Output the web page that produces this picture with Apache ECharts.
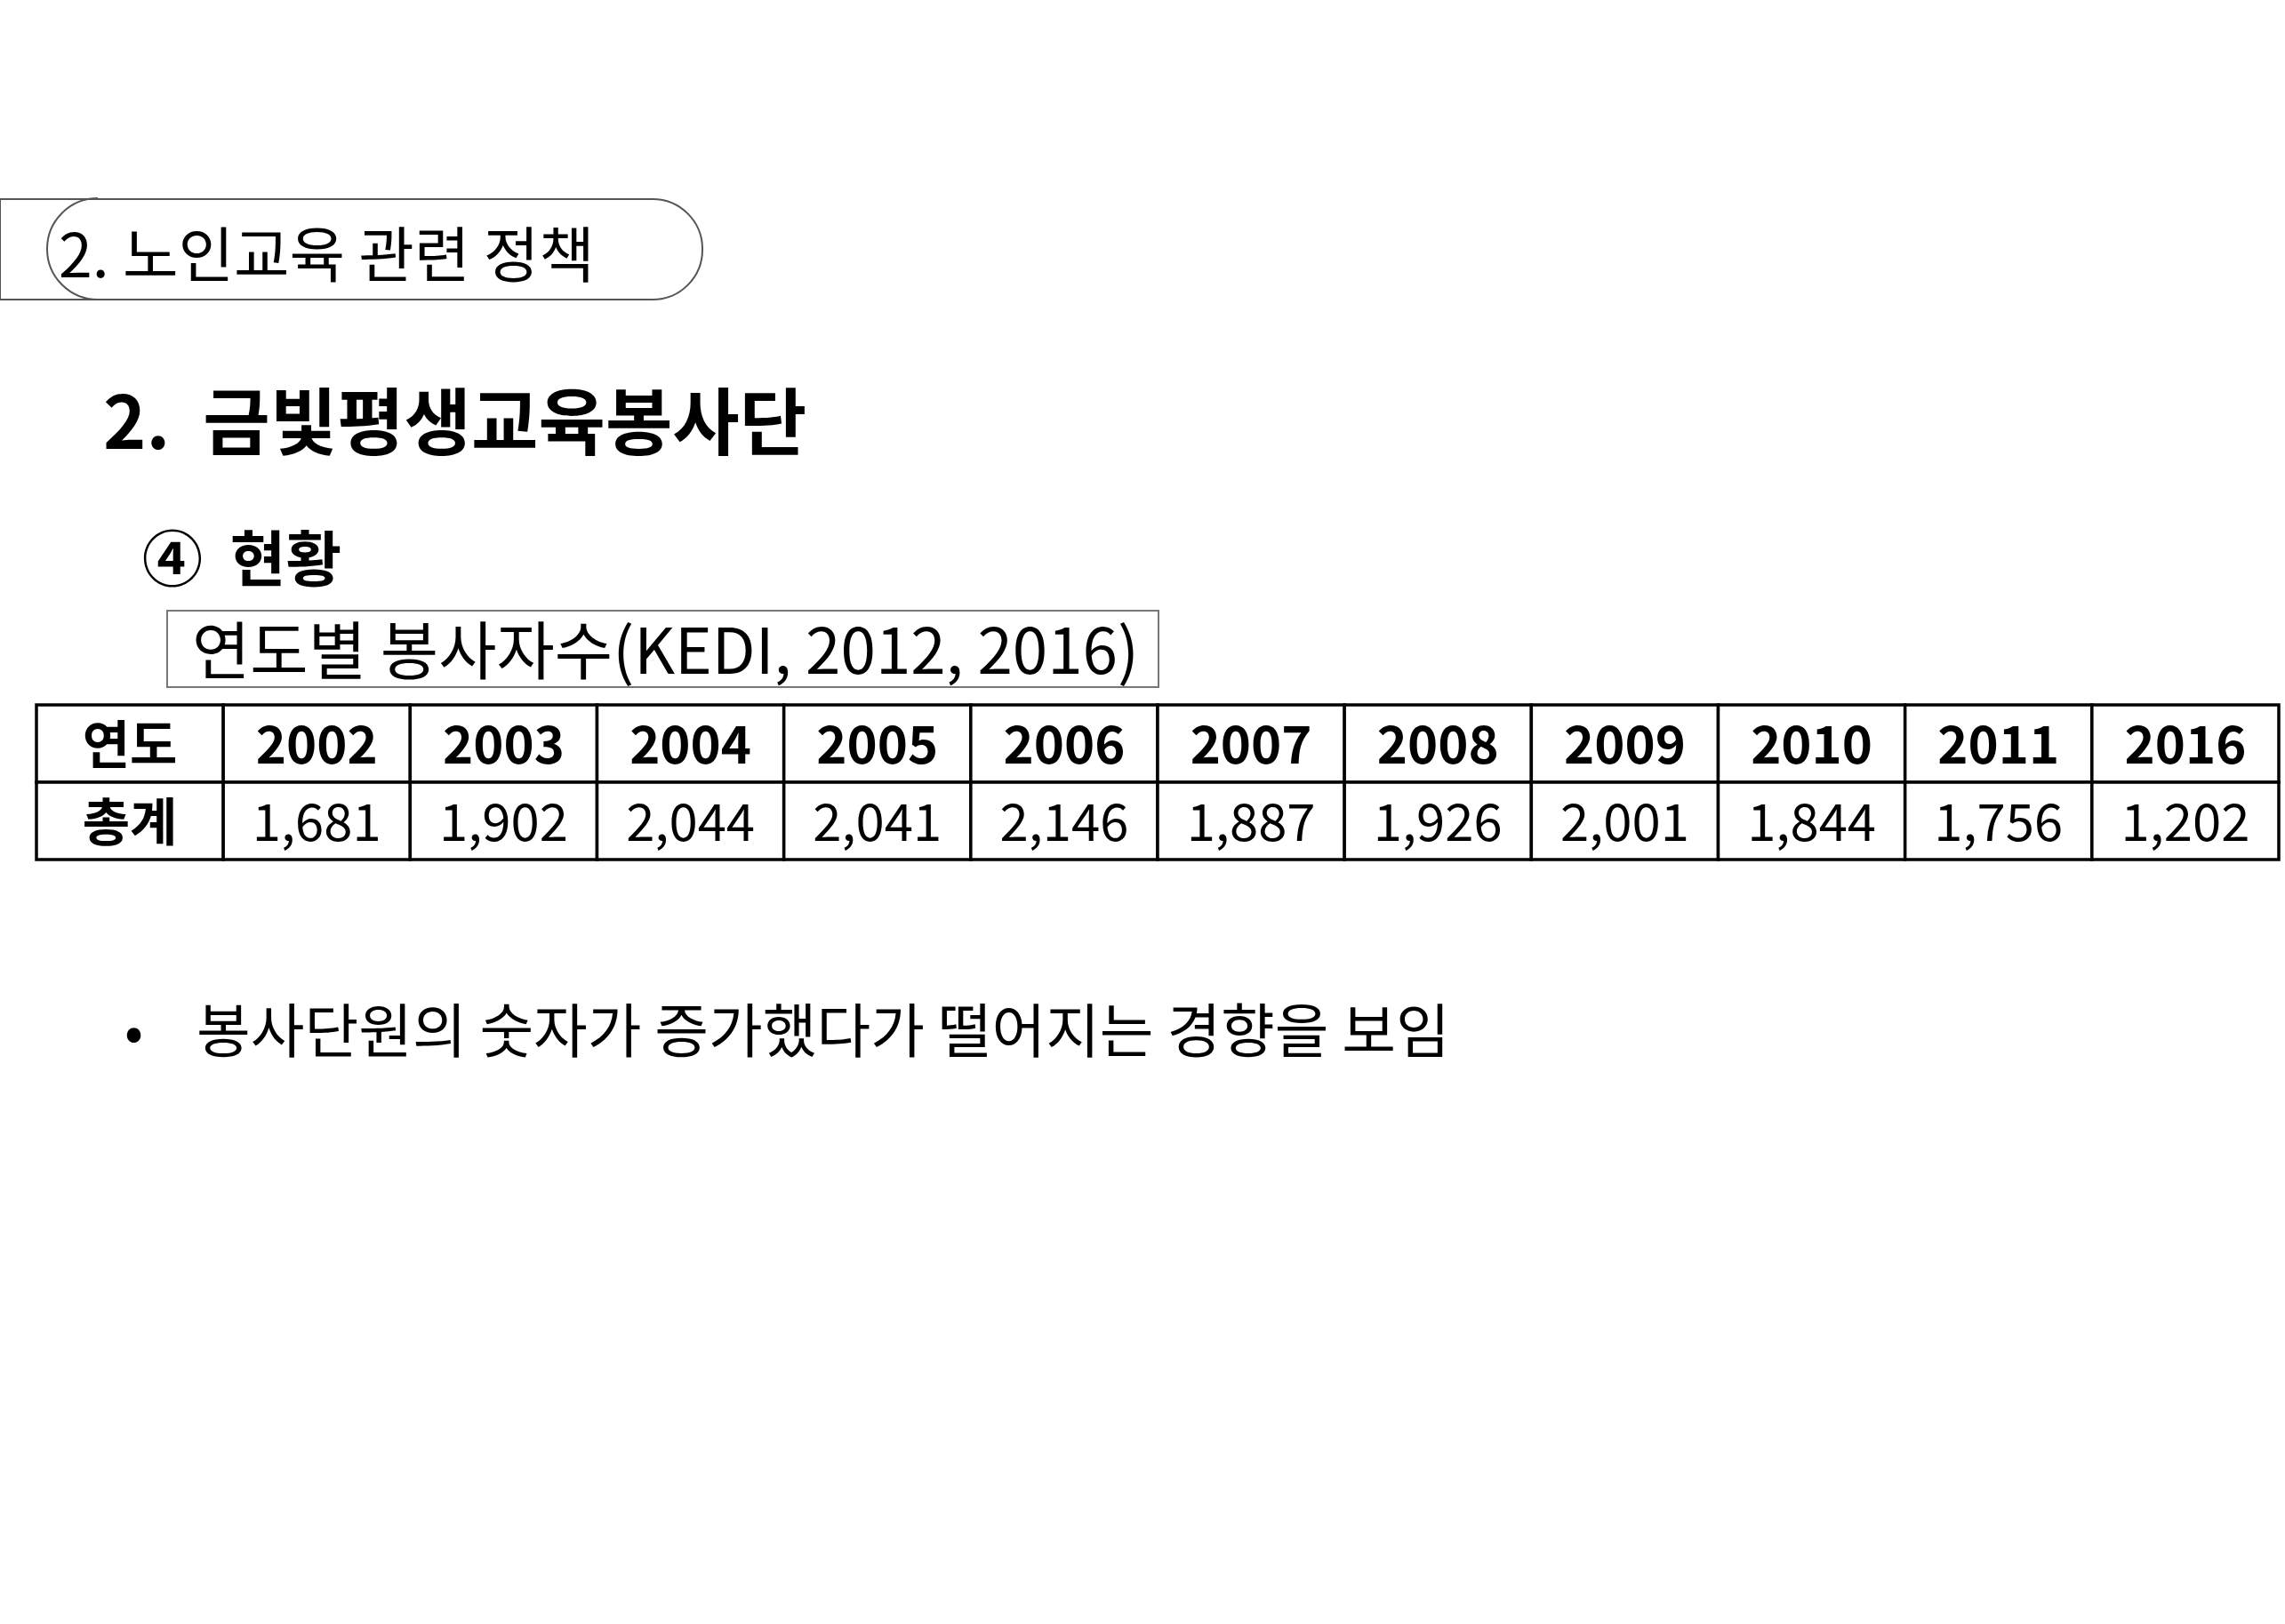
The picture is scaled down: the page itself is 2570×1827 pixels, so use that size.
<!DOCTYPE html><html><head><meta charset="utf-8">
<script src="https://cdn.jsdelivr.net/npm/echarts@6/dist/echarts.min.js"></script>
<style>html,body{margin:0;padding:0;background:#fff}#c{width:2570px;height:1827px}</style></head><body><div id="c"></div>
<script>
const rowLabels=['연도','총계'];
const years=['2002','2003','2004','2005','2006','2007','2008','2009','2010','2011','2016'];
const totals=[1681,1902,2044,2041,2146,1887,1926,2001,1844,1756,1202];
const cols=['h'].concat(years);
const F='"Noto Sans CJK KR","Noto Sans",sans-serif';
const cells=[];
cols.forEach((c,i)=>{
  [0,1].forEach(r=>{
    let t,b=false;
    if(i===0){t=rowLabels[r];b=true;}
    else if(r===0){t=years[i-1];b=true;}
    else t=totals[i-1].toLocaleString('en-US');
    cells.push([i,r,t,b]);
  });
});
const chart=echarts.init(document.getElementById('c'));
chart.setOption({
  animation:false,
  grid:{left:41,right:7,top:793,height:174},
  xAxis:{type:'category',data:cols,show:false},
  yAxis:{type:'category',data:['0','1'],inverse:true,show:false},
  series:[{type:'custom',data:cells,renderItem:(p,api)=>{
    const c=api.coord([api.value(0),api.value(1)]);
    const s=api.size([1,1]);
    return {type:'group',children:[
      {type:'rect',shape:{x:c[0]-s[0]/2,y:c[1]-s[1]/2,width:s[0],height:s[1]},style:{fill:'#fff',stroke:'#000',lineWidth:3.5}},
      {type:'text',style:{x:c[0],y:c[1],text:cells[p.dataIndex][2],align:'center',verticalAlign:'middle',font:(cells[p.dataIndex][3]?'bold ':'')+'58px '+F,fill:'#000'}}
    ]};
  }}],
  graphic:[
    {type:'rect',shape:{x:0,y:224,width:790,height:113,r:[0,56,56,0]},style:{fill:'#fff',stroke:'#555',lineWidth:2}},
    {type:'arc',shape:{cx:110,cy:280,r:57,startAngle:Math.PI*0.5,endAngle:Math.PI*1.5},style:{stroke:'#555',lineWidth:2,fill:null}},
    {type:'text',style:{x:66,y:286,text:'2. 노인교육 관련 정책',font:'68px '+F,verticalAlign:'middle',fill:'#000'}},
    {type:'text',style:{x:116,y:474,text:'2.  금빛평생교육봉사단',font:'bold 82px '+F,verticalAlign:'middle',fill:'#000'}},
    {type:'text',style:{x:160,y:628,text:'④  현황',font:'bold 68px '+F,verticalAlign:'middle',fill:'#000'}},
    {type:'rect',shape:{x:188,y:687,width:1115,height:86},style:{fill:'#fff',stroke:'#777',lineWidth:2}},
    {type:'text',style:{x:216,y:731,text:'연도별 봉사자수(KEDI, 2012, 2016)',font:'71px '+F,verticalAlign:'middle',fill:'#000'}},
    {type:'text',style:{x:140,y:1159,text:'•',font:'62px '+F,verticalAlign:'middle',fill:'#000'}},
    {type:'text',style:{x:221,y:1159,text:'봉사단원의 숫자가 증가했다가 떨어지는 경향을 보임',font:'66px '+F,verticalAlign:'middle',fill:'#000'}}
  ]
});
</script></body></html>
